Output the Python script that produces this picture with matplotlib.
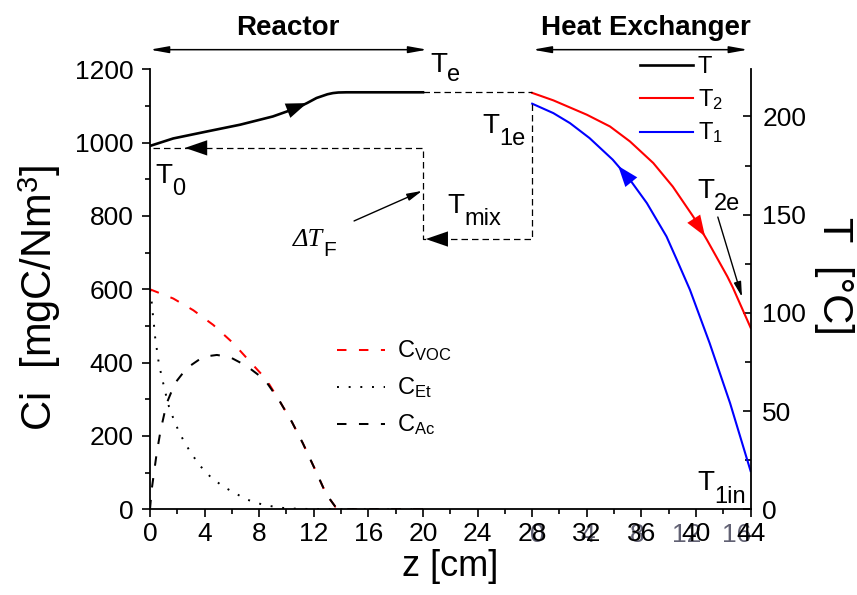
import matplotlib
matplotlib.use("Agg")
import matplotlib.pyplot as plt
from matplotlib.ticker import MultipleLocator
import numpy as np

plt.rcParams['font.family'] = ['Liberation Sans', 'DejaVu Sans']
plt.rcParams['mathtext.fontset'] = 'custom'
plt.rcParams['mathtext.rm'] = 'Liberation Sans'
plt.rcParams['mathtext.it'] = 'Liberation Serif:italic'
plt.rcParams['mathtext.bf'] = 'Liberation Sans:bold'

# ---------------- temperature profiles (right axis, degC) ----------------
z_reactor = [0, 1.7, 4.2, 6.6, 9.0, 10.75, 11.5, 12.2, 13.0, 13.4, 13.8, 14.4, 20.0]
T_reactor = [185, 188.8, 192.4, 195.8, 200.0, 204.3, 206.8, 209.4, 211.3, 211.9, 212.2, 212.3, 212.3]

z_hx2 = [28, 29.55, 32, 33.7, 35.16, 36.87, 38.3, 39.8, 40.8, 41.5, 42.3, 42.7, 44]
T2_hx = [212, 208.2, 200.9, 194.9, 187.3, 176.3, 164.3, 149, 137.2, 128.5, 118.5, 112.9, 92.5]

z_hx1 = [28, 29.55, 30.77, 32.2, 33.9, 35.16, 36.4, 37.84, 38.6, 39.56, 41.0, 42.5, 44]
T1_hx = [206.5, 201.7, 196.6, 189, 178, 167.8, 155.9, 138.9, 127, 111.7, 84.6, 54, 19.5]

# reactor outlet and recycle path
z_outlet = [20, 28]
T_outlet = [212.3, 212.3]
z_recycle = [28, 28, 20, 20, 0]
T_recycle = [206.5, 137.6, 137.6, 184, 184]

# ---------------- concentrations (left axis, mgC/Nm3) ----------------
z_voc = [0, 1.7, 3.17, 4.63, 6.1, 7.44, 8.5, 9.5, 10.4, 11.2, 12.2, 12.9, 13.6, 14.0, 20]
C_voc = [600, 575, 543, 503, 453, 398, 355, 295, 238, 180, 100, 42, 6, 0, 0]

z_et = [0, 0.12, 0.2, 0.29, 0.37, 0.49, 0.61, 0.78, 0.98, 1.17, 1.39, 1.71, 2.08, 2.52,
        3.05, 3.66, 4.47, 5.37, 6.23, 7.08, 7.94, 8.8, 9.65, 10.5, 11.5, 14, 20]
C_et = [598, 566, 535, 503, 471, 439, 407, 375, 342, 312, 280, 248, 215, 183,
        151, 119, 87, 62, 44, 27, 16, 9, 4, 2, 1, 0, 0]

z_ac = [0, 0.12, 0.49, 0.78, 1.22, 1.83, 2.69, 3.9, 4.9, 5.86, 7.08, 8.42, 9.5, 10.4,
        11.2, 12.2, 12.9, 13.6, 14.0, 20]
C_ac = [0, 53, 153, 216, 289, 344, 385, 416, 421, 415, 391, 353, 295, 238,
        180, 100, 42, 6, 0, 0]

z_ticks = list(range(0, 45, 4))
hx_ticks = [0, 4, 8, 12, 16]
C_ticks = list(range(0, 1201, 200))
T_ticks = list(range(0, 201, 50))

# ---------------- figure ----------------
fig = plt.figure(figsize=(8.57, 5.95), dpi=100)
ax = fig.add_axes([0.17503, 0.1440, 0.7008, 0.7395])
ax2 = ax.twinx()

ax.set_xlim(0, 44)
ax.set_ylim(0, 1200)
ax2.set_ylim(0, 224)

for s in ('top', 'right'):
    ax.spines[s].set_visible(False)
for s in ('top', 'left', 'bottom'):
    ax2.spines[s].set_visible(False)
for sp in ax.spines.values():
    sp.set_linewidth(1.3)
ax2.spines['right'].set_linewidth(1.3)

ax.set_xticks(z_ticks)
ax.xaxis.set_minor_locator(MultipleLocator(2))
ax.set_yticks(C_ticks)
ax.yaxis.set_minor_locator(MultipleLocator(100))
ax.tick_params(axis='both', which='major', direction='out', length=6, width=1.2,
               labelsize=19)
ax.tick_params(axis='both', which='minor', direction='out', length=3.6, width=1.2)
ax.tick_params(axis='y', which='major', pad=6)
ax.tick_params(axis='x', which='major', pad=3)

ax2.set_yticks(T_ticks)
ax2.yaxis.set_minor_locator(MultipleLocator(25))
ax2.tick_params(axis='y', which='major', direction='in', length=6, width=1.2,
                labelsize=19, pad=8.5)
ax2.tick_params(axis='y', which='minor', direction='in', length=4.5, width=1.2)

# heat-exchanger length scale printed under the upper part of the z axis
def hx_fwd(z):
    return (np.asarray(z, dtype=float) - 28.4) / 0.9125

def hx_inv(h):
    return 28.4 + 0.9125 * np.asarray(h, dtype=float)

sec = ax.secondary_xaxis('bottom', functions=(hx_fwd, hx_inv))
sec.set_xticks(hx_ticks)
sec.spines['bottom'].set_visible(False)
sec.tick_params(axis='x', which='both', length=0, labelsize=19,
                labelcolor='#45455a', pad=3 + 6 + 1)
sec.xaxis.set_minor_locator(plt.NullLocator())
for lab in sec.get_xticklabels():
    lab.set_alpha(0.85)

ax.set_xlabel('z [cm]', fontsize=26, labelpad=2)
ax.set_ylabel('Ci  [mgC/Nm$^3$]', fontsize=30)
ax.yaxis.set_label_coords(-0.145, 0.48)
ax2.set_ylabel('T  [°C]', fontsize=30, rotation=270, va='bottom')
ax2.yaxis.set_label_coords(1.105, 0.53)

# ---------------- concentration curves ----------------
ax.plot(z_voc, C_voc, color='red', lw=1.45, dashes=(4.7, 6.2), label='C$_{\\mathrm{VOC}}$')
ax.plot(z_et, C_et, color='black', lw=1.4, dashes=(1, 5), label='C$_{\\mathrm{Et}}$')
ax.plot(z_ac, C_ac, color='black', lw=1.45, dashes=(4.7, 6.2), label='C$_{\\mathrm{Ac}}$')

legC = ax.legend(loc='upper left', bbox_to_anchor=(337 / 857, 1 - 339 / 595),
                 bbox_transform=fig.transFigure, frameon=False, fontsize=17,
                 handlelength=2.03, handletextpad=0.5, borderpad=0, borderaxespad=0,
                 labelspacing=0.535)

# ---------------- temperature curves ----------------
ax2.plot(z_reactor, T_reactor, color='black', lw=1.9, label='T')
ax2.plot(z_hx2, T2_hx, color='red', lw=1.5, label='T$_2$')
ax2.plot(z_hx1, T1_hx, color='blue', lw=1.5, label='T$_1$')
ax2.plot(z_outlet, T_outlet, color='black', lw=0.9, dashes=(5.2, 3.2))
ax2.plot(z_recycle, T_recycle, color='black', lw=0.9, dashes=(5.2, 3.2))

legT = ax2.legend(loc='upper left', bbox_to_anchor=(640 / 857, 1 - 56 / 595),
                  bbox_transform=fig.transFigure, frameon=False, fontsize=17,
                  handlelength=2.25, handletextpad=0.2, borderpad=0, borderaxespad=0,
                  labelspacing=0.4)

# direction arrowheads along the profiles
def head(axis, tip, base, color, hl=1.5, hw=0.55):
    axis.annotate('', xy=tip, xytext=base,
                  arrowprops=dict(arrowstyle=f'-|>,head_length={hl},head_width={hw}',
                                  color=color, lw=0.01, shrinkA=0, shrinkB=0))

head(ax2, (11.5, 206.8), (9.0, 200.0), 'black')
head(ax2, (40.66, 139.0), (39.0, 157.0), 'red')
head(ax2, (34.3, 174.8), (36.0, 160.2), 'blue')
head(ax2, (2.56, 184), (5.0, 184), 'black', hl=1.6, hw=0.55)
head(ax2, (20.2, 137.6), (23.0, 137.6), 'black', hl=1.6, hw=0.55)

# section arrows above the plot
for z0, z1 in ((0, 20.3), (28.05, 43.8)):
    ax2.annotate('', xy=(z1, 234), xytext=(z0, 234), annotation_clip=False,
                 arrowprops=dict(arrowstyle='<|-|>,head_length=1.1,head_width=0.2',
                                 color='black', lw=1.1, shrinkA=0, shrinkB=0))
ax2.text(10.1, 241.6, 'Reactor', fontsize=20, fontweight='bold', ha='center', va='baseline')
ax2.text(36.3, 241.6, 'Heat Exchanger', fontsize=20, fontweight='bold', ha='center', va='baseline')

# point labels with lowered indices
renderer = fig.canvas.get_renderer()

def point_label(axis, x, y, main, sub, size=20, sub_size=17, drop=8.5, **kw):
    t = axis.text(x, y, main, fontsize=size, ha='left', va='baseline', **kw)
    w = t.get_window_extent(renderer).width * 72 / fig.dpi
    axis.annotate(sub, xy=(x, y), xytext=(w, -drop), textcoords='offset points',
                  fontsize=sub_size, ha='left', va='baseline', annotation_clip=False)

point_label(ax2, 20.51, 222.8, 'T', 'e', drop=6.5)
point_label(ax2, 24.32, 191.7, 'T', '1e', drop=9)
point_label(ax2, 0.37, 166.2, 'T', '0', drop=9)
point_label(ax2, 21.76, 150.9, 'T', 'mix', drop=8.5)
point_label(ax2, 40.07, 158.6, 'T', '2e', drop=8.5)
point_label(ax2, 40.07, 9.8, 'T', '1in', drop=9)
point_label(ax2, 10.48, 134.0, '\u0394T', 'F', size=19, sub_size=15, drop=7,
            family='Liberation Serif', style='italic')

# pointer arrows for the feed temperature rise and exchanger outlet
ax2.annotate('', xy=(19.93, 162.1), xytext=(14.95, 146.8),
             arrowprops=dict(arrowstyle='-|>,head_length=0.9,head_width=0.22',
                             color='black', lw=1.0, shrinkA=0, shrinkB=0))
ax2.annotate('', xy=(43.37, 108.1), xytext=(41.6, 148.8),
             arrowprops=dict(arrowstyle='-|>,head_length=0.9,head_width=0.22',
                             color='black', lw=1.0, shrinkA=0, shrinkB=0))

fig.savefig('out.png', dpi=100)
